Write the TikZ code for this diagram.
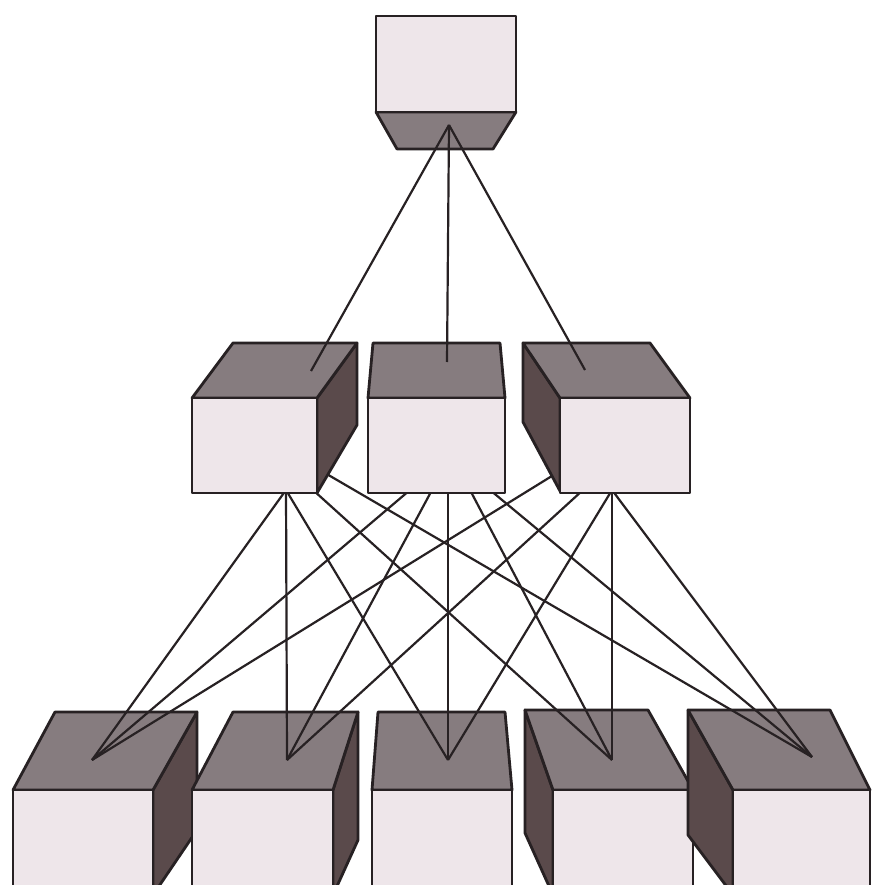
\documentclass[tikz,border=0pt]{standalone}
\definecolor{frontc}{HTML}{EEE6EA}
\definecolor{topc}{HTML}{867C7F}
\definecolor{sidec}{HTML}{5A4A4B}
\definecolor{edgec}{HTML}{272123}
\tikzset{
  face/.style={draw=edgec, line width=2.8pt, line join=round},
  frontface/.style={face, fill=frontc},
  topface/.style={face, fill=topc},
  sideface/.style={face, fill=sidec},
  link/.style={draw=edgec, line width=2.2pt},
}
\begin{document}
\begin{tikzpicture}[x=1pt,y=-1pt]
\fill[white] (0,0) rectangle (872,885);
\clip (0,0) rectangle (872,885);

% ---------- bottom row ----------
% B1
\path[sideface] (153,790) -- (197,712) -- (197,830) -- (153,895) -- cycle;
\path[topface] (13,790) -- (55,712) -- (197,712) -- (153,790) -- cycle;
\path[frontface] (13,790) rectangle (153,895);
% B2
\path[sideface] (333,790) -- (358,712) -- (358,840) -- (333,895) -- cycle;
\path[topface] (192,790) -- (233,712) -- (358,712) -- (333,790) -- cycle;
\path[frontface] (192,790) rectangle (333,895);
% B3
\path[topface] (372,790) -- (378,712) -- (505,712) -- (512,790) -- cycle;
\path[frontface] (372,790) rectangle (512,895);
% B4
\path[sideface] (553,790) -- (525,710) -- (525,833) -- (553,895) -- cycle;
\path[topface] (553,790) -- (525,710) -- (648,710) -- (693,790) -- cycle;
\path[frontface] (553,790) rectangle (693,895);
% B5
\path[sideface] (733,790) -- (688,710) -- (688,835) -- (733,895) -- cycle;
\path[topface] (733,790) -- (688,710) -- (830,710) -- (870,790) -- cycle;
\path[frontface] (733,790) rectangle (870,895);

% apexes on the bottom boxes
\coordinate (b1) at (92,760);
\coordinate (b2) at (287,760);
\coordinate (b3) at (448,760);
\coordinate (b4) at (612,760);
\coordinate (b5) at (812,757);

% start points under the middle boxes
\coordinate (s1a) at (286,490);
\coordinate (s1d) at (313,490);
\coordinate (s1e) at (325,473);
\coordinate (s2a) at (410,490);
\coordinate (s2b) at (432,490);
\coordinate (s2c) at (448,490);
\coordinate (s2d) at (470,490);
\coordinate (s2e) at (490,490);
\coordinate (s3a) at (560,471);
\coordinate (s3b) at (583,490);
\coordinate (s3c) at (612,490);

% connectors middle -> bottom
\draw[link] (s1a) -- (b1);
\draw[link] (s1a) -- (b2);
\draw[link] (s1a) -- (b3);
\draw[link] (s1d) -- (b4);
\draw[link] (s1e) -- (b5);
\draw[link] (s2a) -- (b1);
\draw[link] (s2b) -- (b2);
\draw[link] (s2c) -- (b3);
\draw[link] (s2d) -- (b4);
\draw[link] (s2e) -- (b5);
\draw[link] (s3a) -- (b1);
\draw[link] (s3b) -- (b2);
\draw[link] (s3c) -- (b3);
\draw[link] (s3c) -- (b4);
\draw[link] (s3c) -- (b5);

% ---------- middle row ----------
% M1
\path[sideface] (317,398) -- (357,343) -- (357,425) -- (317,493) -- cycle;
\path[topface] (192,398) -- (233,343) -- (357,343) -- (317,398) -- cycle;
\path[frontface] (192,398) rectangle (317,493);
% M2
\path[topface] (368,398) -- (373,343) -- (500,343) -- (505,398) -- cycle;
\path[frontface] (368,398) rectangle (505,493);
% M3
\path[sideface] (560,398) -- (523,343) -- (523,422) -- (560,491) -- cycle;
\path[topface] (560,398) -- (523,343) -- (650,343) -- (690,398) -- cycle;
\path[frontface] (560,398) rectangle (690,493);

% ---------- top box ----------
\path[topface] (376,112) -- (516,112) -- (493,149) -- (397,149) -- cycle;
\path[frontface] (376,16) rectangle (516,112);

% connectors top -> middle
\coordinate (t) at (449,125);
\coordinate (m1) at (311,371);
\coordinate (m2) at (447,362);
\coordinate (m3) at (585,370);
\draw[link] (t) -- (m1);
\draw[link] (t) -- (m2);
\draw[link] (t) -- (m3);
\end{tikzpicture}
\end{document}
